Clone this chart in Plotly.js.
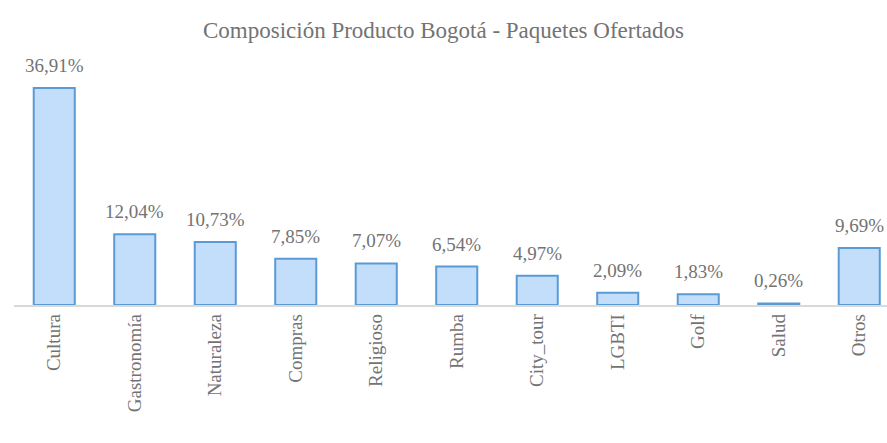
<!DOCTYPE html>
<html><head><meta charset="utf-8">
<script src="https://cdn.plot.ly/plotly-3.0.1.min.js"></script>
<style>
html,body{margin:0;padding:0;background:#fff}
#chart{width:887px;height:443px}
</style>
</head><body><div id="chart"></div>
<script>
const categories = ["Cultura","Gastronomía","Naturaleza","Compras","Religioso","Rumba","City_tour","LGBTI","Golf","Salud","Otros"];
const values = [36.91,12.04,10.73,7.85,7.07,6.54,4.97,2.09,1.83,0.26,9.69];
const titleText = "Composición Producto Bogotá - Paquetes Ofertados";

const labelText = values.map(v => v.toFixed(2).replace(".", ",") + "%");

const trace = {
  type: "bar",
  x: categories,
  y: values,
  width: 0.51,
  marker: {color: "#c3defb", line: {color: "#5b9bd5", width: 2}}
};

const annotations = categories.map((c, i) => ({
  x: c, y: values[i],
  text: labelText[i], showarrow: false,
  yanchor: "bottom", yshift: 10,
  font: {family: "Liberation Serif", size: 19, color: "#737373"}
}));

const layout = {
  width: 887, height: 443,
  margin: {l: 14, r: 0, t: 60, b: 138},
  showlegend: false,
  title: {text: titleText, x: 0.5, y: 0.95,
          font: {family: "Liberation Serif", size: 23, color: "#737373"}},
  xaxis: {
    range: [-0.5, 10.345],
    showline: true, linecolor: "#d9d9d9", linewidth: 1.5,
    tickangle: -90,
    tickfont: {family: "Liberation Serif", size: 19, color: "#737373"},
    showgrid: false, zeroline: false
  },
  yaxis: {
    range: [0, 41.67], showticklabels: false, showgrid: false, zeroline: false, showline: false
  },
  annotations: annotations
};

Plotly.newPlot("chart", [trace], layout, {staticPlot: true});
</script>
</body></html>
